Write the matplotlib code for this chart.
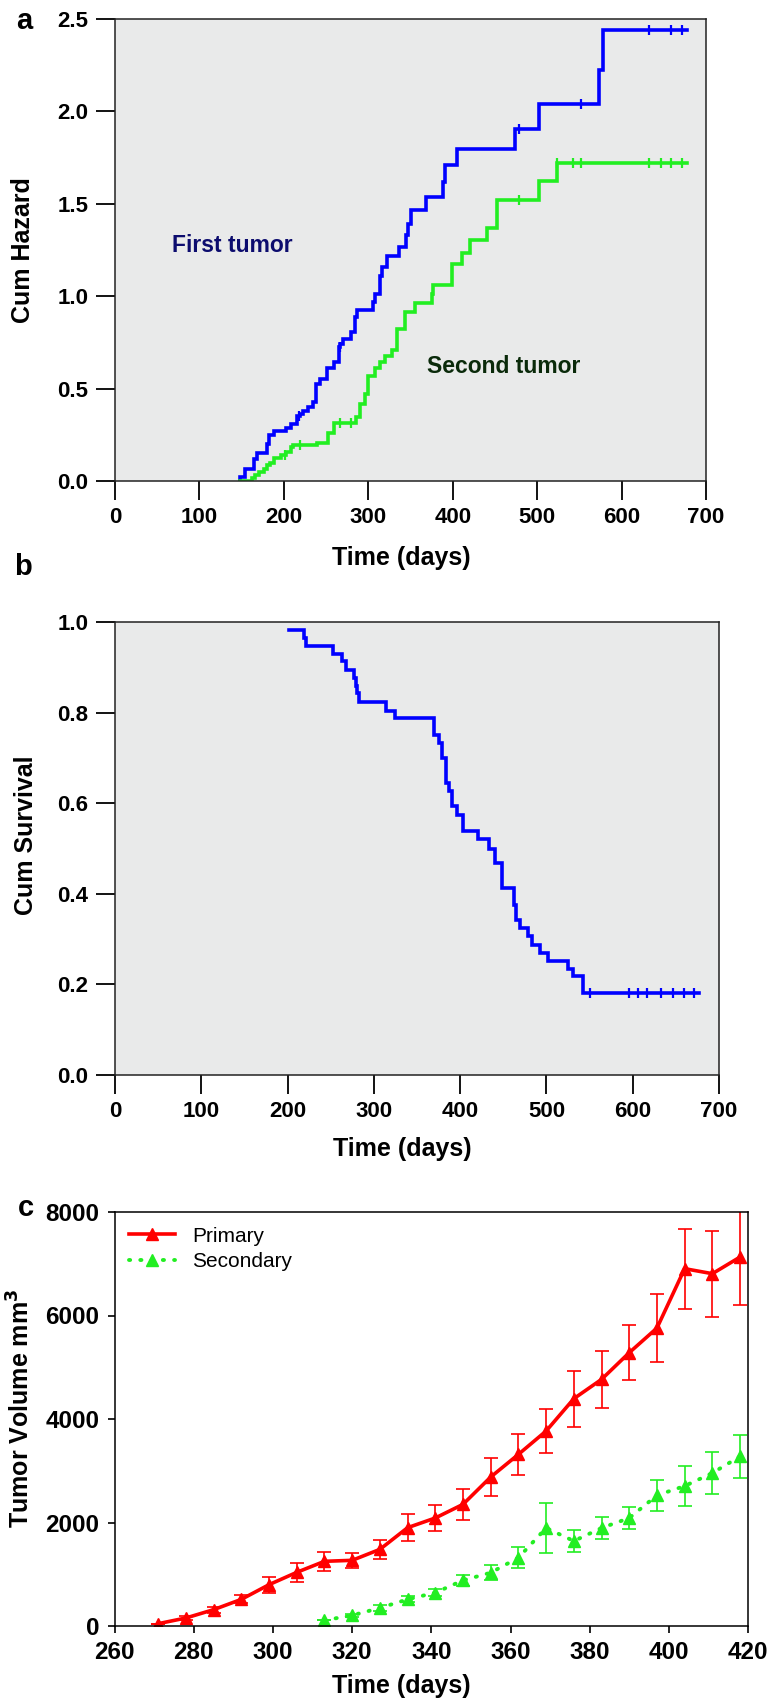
import numpy as np
import matplotlib
matplotlib.use("Agg")
import matplotlib.pyplot as plt

plt.rcParams["font.family"] = ["Liberation Sans", "DejaVu Sans"]
plt.rcParams["font.weight"] = "bold"
plt.rcParams["axes.labelweight"] = "bold"

# ---- panel a: cumulative hazard (step curves) ----
first_start, first_end = 148, 677
first_t = [148, 154, 165, 168, 180, 182, 188, 203, 209, 215, 219, 223, 229, 235, 238,
           243, 251, 259, 265, 267, 270, 280, 284, 287, 306, 308, 314, 316, 322, 336,
           345, 347, 350, 368, 389, 391, 405, 474, 502, 573, 578]
first_h = [0.02, 0.067, 0.12, 0.153, 0.20, 0.247, 0.27, 0.287, 0.31, 0.35, 0.365, 0.38,
           0.40, 0.43, 0.527, 0.554, 0.61, 0.644, 0.725, 0.74, 0.77, 0.806, 0.887, 0.927,
           0.969, 1.014, 1.107, 1.158, 1.216, 1.266, 1.33, 1.39, 1.465, 1.537, 1.618,
           1.708, 1.798, 1.907, 2.038, 2.222, 2.442]
first_cens = [218, 266, 478, 552, 633, 658, 672]

second_start, second_end = 148, 677
second_t = [162, 166, 170, 176, 180, 184, 188, 197, 203, 209, 211, 239, 252, 259, 286,
            290, 296, 300, 308, 314, 320, 328, 334, 344, 355, 375, 377, 399, 411, 420,
            441, 453, 502, 524]
second_h = [0.015, 0.03, 0.05, 0.067, 0.085, 0.10, 0.126, 0.139, 0.157, 0.184, 0.193,
            0.206, 0.26, 0.314, 0.346, 0.418, 0.47, 0.57, 0.61, 0.644, 0.675, 0.71, 0.824,
            0.914, 0.965, 1.014, 1.06, 1.176, 1.236, 1.302, 1.369, 1.521, 1.622, 1.721]
second_cens = [201, 219, 267, 279, 478, 524, 542, 552, 633, 647, 658, 672]

# ---- panel b: cumulative survival ----
surv_end = 677
surv_t = [202, 219, 221, 253, 263, 268, 277, 279, 281, 283, 314, 325, 370, 376, 379, 384,
          387, 391, 396, 403, 421, 433, 440, 449, 462, 465, 469, 479, 483, 492, 502, 525,
          531, 542]
surv_s = [0.983, 0.965, 0.948, 0.929, 0.913, 0.895, 0.876, 0.858, 0.843, 0.824, 0.804,
          0.787, 0.751, 0.733, 0.70, 0.645, 0.626, 0.593, 0.575, 0.538, 0.52, 0.50, 0.468,
          0.413, 0.376, 0.343, 0.325, 0.306, 0.288, 0.27, 0.251, 0.233, 0.218, 0.182]
surv_cens = [551, 596, 606, 616, 633, 647, 659, 671]

# ---- panel c: tumor volume ----
prim_days = [271, 278, 285, 292, 299, 306, 313, 320, 327, 334, 341, 348, 355, 362, 369,
             376, 383, 390, 397, 404, 411, 418]
prim_vol = [45, 155, 316, 515, 799, 1037, 1250, 1269, 1481, 1900, 2087, 2351, 2879, 3317,
            3768, 4393, 4766, 5282, 5758, 6905, 6808, 7130]
prim_err = [0, 30, 60, 80, 155, 190, 180, 150, 185, 265, 250, 300, 370, 400, 430, 540,
            545, 530, 650, 770, 830, 920]
sec_days = [313, 320, 327, 334, 341, 348, 355, 362, 369, 376, 383, 390, 397, 404, 411, 418]
sec_vol = [110, 206, 348, 515, 644, 882, 1030, 1320, 1894, 1642, 1894, 2087, 2525, 2705,
           2956, 3278]
sec_err = [0, 30, 60, 60, 70, 110, 140, 200, 485, 210, 215, 215, 305, 380, 410, 415]

BLUE = "#0000ff"
GREEN = "#22ee22"
RED = "#ff0000"
BG = "#e9eaea"
W, H = 773, 1702


def box(l, t, r, b):
    return [l / W, 1 - b / H, (r - l) / W, (b - t) / H]


def km_curve(ax, start, end, t, v, v0, cens, color):
    xs = [start] + list(t) + [end]
    ys = [v0] + list(v) + [v[-1]]
    ax.plot(xs, ys, drawstyle="steps-post", color=color, lw=2.6, solid_joinstyle="miter")
    idx = np.searchsorted(xs, cens, side="right") - 1
    ax.plot(cens, np.array(ys)[idx], "|", color=color, ms=7.5, mew=1.6)


def km_style(ax):
    ax.set_facecolor(BG)
    for s in ax.spines.values():
        s.set_color("#222222")
        s.set_linewidth(1.1)
    ax.tick_params(direction="out", length=14, width=1.3, labelsize=16, pad=5,
                   top=False, right=False)
    ax.set_xlim(0, 700)
    ax.set_xticks(range(0, 701, 100))


fig = plt.figure(figsize=(W / 100, H / 100), dpi=100)

# panel a
ax = fig.add_axes(box(115, 19, 706, 481))
km_style(ax)
km_curve(ax, first_start, first_end, first_t, first_h, 0.0, first_cens, BLUE)
km_curve(ax, second_start, second_end, second_t, second_h, 0.0, second_cens, GREEN)
ax.set_ylim(0, 2.5)
ax.set_yticks(np.arange(0, 2.51, 0.5))
ax.set_yticklabels(["%.1f" % v for v in np.arange(0, 2.51, 0.5)])
ax.set_xlabel("Time (days)", fontsize=18)
ax.set_ylabel("Cum Hazard", fontsize=18)
ax.xaxis.set_label_coords(0.485, -0.141)
ax.yaxis.set_label_coords(-0.135, 0.5)
ax.text(68, 1.24, "First tumor", color="#0c0c6e", fontsize=16.5, fontweight="bold")
ax.text(369, 0.584, "Second tumor", color="#0a2a0a", fontsize=16.5, fontweight="bold")
fig.text(16 / W, 1 - 29 / H, "a", fontsize=21, fontweight="bold", va="baseline")

# panel b
ax = fig.add_axes(box(115, 622, 719, 1075))
km_style(ax)
km_curve(ax, surv_t[0], surv_end, surv_t[1:], surv_s[1:], surv_s[0], surv_cens, BLUE)
ax.set_ylim(0, 1.0)
ax.set_yticks(np.arange(0, 1.01, 0.2))
ax.set_yticklabels(["%.1f" % v for v in np.arange(0, 1.01, 0.2)])
ax.set_xlabel("Time (days)", fontsize=18)
ax.set_ylabel("Cum Survival", fontsize=18)
ax.xaxis.set_label_coords(0.475, -0.137)
ax.yaxis.set_label_coords(-0.128, 0.53)
fig.text(14 / W, 1 - 575 / H, "b", fontsize=21, fontweight="bold", va="baseline")

# panel c
ax = fig.add_axes(box(114.7, 1212, 748, 1626))
for s in ax.spines.values():
    s.set_color("black")
    s.set_linewidth(1.1)
ax.errorbar(prim_days, prim_vol, yerr=prim_err, fmt="none", ecolor=RED,
            elinewidth=1.2, capsize=5, capthick=1.2)
ax.errorbar(sec_days, sec_vol, yerr=sec_err, fmt="none", ecolor=GREEN,
            elinewidth=1.2, capsize=5, capthick=1.2)
ax.plot(prim_days, prim_vol, "-^", color=RED, lw=2.6, ms=9, label="Primary")
ax.plot(sec_days, sec_vol, "^", color=GREEN, ls=(0, (0.3, 2.6)), lw=2.8, ms=9,
        dash_capstyle="round", label="Secondary")
ax.set_xlim(260, 420)
ax.set_ylim(0, 8000)
ax.set_xticks(range(260, 421, 20))
ax.set_yticks(range(0, 8001, 2000))
ax.tick_params(direction="out", length=5, width=1.2, labelsize=17.5, pad=6,
               top=False, right=False)
ax.set_xlabel("Time (days)", fontsize=18)
ax.set_ylabel("Tumor Volume mm$^{\\mathbf{3}}$", fontsize=18)
ax.xaxis.set_label_coords(0.453, -0.116)
ax.yaxis.set_label_coords(-0.126, 0.527)
ax.legend(loc="upper left", frameon=False, prop={"weight": "normal", "size": 15},
          handlelength=2.2, borderaxespad=0.3, labelspacing=0.3, numpoints=1)
fig.text(18 / W, 1 - 1216 / H, "c", fontsize=21, fontweight="bold", va="baseline")

fig.savefig("out.png", dpi=100)
